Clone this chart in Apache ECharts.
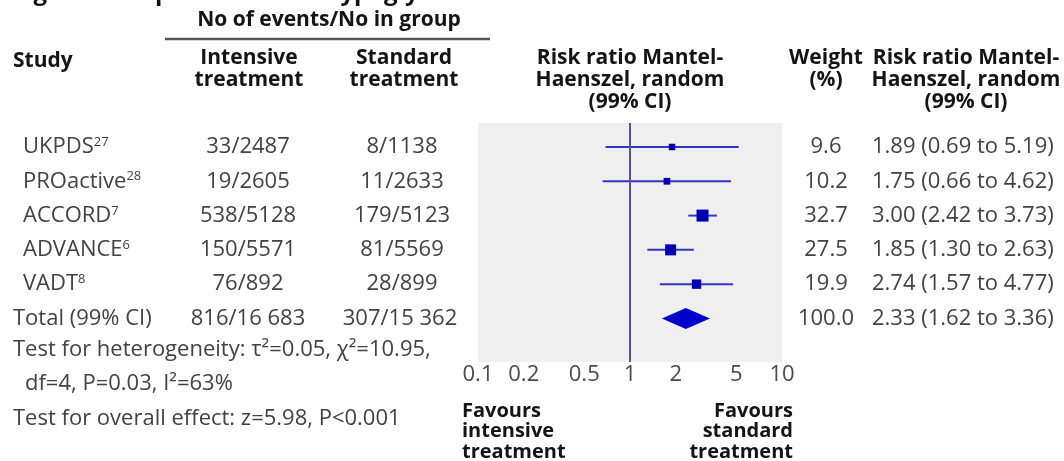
<!DOCTYPE html>
<html><head><meta charset="utf-8">
<script src="https://cdn.jsdelivr.net/npm/echarts@6/dist/echarts.min.js"></script>
<style>html,body{margin:0;padding:0;background:#fff}#c{width:1064px;height:461px}</style>
</head><body><div id="c"></div>
<script>
// ---- data ----
const studies = ['UKPDS', 'PROactive', 'ACCORD', 'ADVANCE', 'VADT'];
const refs = ['27', '28', '7', '6', '8'];
const intensive = ['33/2487', '19/2605', '538/5128', '150/5571', '76/892'];
const standard = ['8/1138', '11/2633', '179/5123', '81/5569', '28/899'];
const rr = [1.89, 1.75, 3.00, 1.85, 2.74];
const lo = [0.69, 0.66, 2.42, 1.30, 1.57];
const hi = [5.19, 4.62, 3.73, 2.63, 4.77];
const weight = [9.6, 10.2, 32.7, 27.5, 19.9];
const totalLabel = 'Total (99% CI)';
const totalIntensive = '816/16 683';
const totalStandard = '307/15 362';
const totalRR = 2.33, totalLo = 1.62, totalHi = 3.36, totalWeight = 100.0;
const tickLabels = [0.1, 0.2, 0.5, 1, 2, 5, 10];
const footLines = ['Test for heterogeneity: τ²=0.05, χ²=10.95,', 'df=4, P=0.03, I²=63%', 'Test for overall effect: z=5.98, P<0.001'];

const FONT = '"Open Sans", "DejaVu Sans", sans-serif';
const REG = '22px ' + FONT;
const BOLD = 'bold 21px ' + FONT;
const TXT = '#424242', HEAD = '#141414';
const chart = echarts.init(document.getElementById('c'));

const seriesData = studies.map((s, i) => [i, lo[i], rr[i], hi[i], weight[i], 0]);
seriesData.push([studies.length, totalLo, totalRR, totalHi, totalWeight, 1]);

chart.setOption({
  animation: false,
  backgroundColor: '#ffffff',
  grid: { left: 478, width: 304, top: 123, height: 239, show: true, backgroundColor: '#efefef', borderWidth: 0 },
  xAxis: {
    type: 'log', logBase: 10, min: 0.1, max: 10,
    axisLine: { show: false }, axisTick: { show: false }, splitLine: { show: false }, minorTick: { show: false },
    axisLabel: { customValues: tickLabels, fontFamily: FONT, fontSize: 22, color: '#4a4a4a', margin: 2, formatter: v => String(+(+v).toPrecision(3)) }
  },
  yAxis: { type: 'value', inverse: true, min: -0.7, max: 6.27, show: false },
  series: [{
    type: 'custom',
    encode: { x: [1, 2, 3], y: 0 },
    data: seriesData,
    renderItem: function (params, api) {
      const row = api.value(0);
      const pL = api.coord([api.value(1), row]);
      const pM = api.coord([api.value(2), row]);
      const pH = api.coord([api.value(3), row]);
      const isTotal = api.value(5) === 1;
      if (isTotal) {
        const h = 10.5;
        return { type: 'polygon', shape: { points: [[pL[0], pM[1]], [pM[0], pM[1] - h], [pH[0], pM[1]], [pM[0], pM[1] + h]] }, style: { fill: '#0000cc' } };
      }
      const sz = Math.sqrt(api.value(4)) * 2.1;
      return { type: 'group', children: [
        { type: 'line', shape: { x1: pL[0], y1: pL[1], x2: pH[0], y2: pH[1] }, style: { stroke: '#3535c0', lineWidth: 2 } },
        { type: 'rect', shape: { x: pM[0] - sz / 2, y: pM[1] - sz / 2, width: sz, height: sz }, style: { fill: '#0000b0' } }
      ] };
    },
    markLine: { silent: true, symbol: 'none', label: { show: false }, lineStyle: { color: '#55558c', width: 2, type: 'solid' }, data: [{ xAxis: 1 }] },
    z: 3
  }]
});

const yOf = i => chart.convertToPixel({ yAxisIndex: 0 }, i);
const G = [];
function txt(x, y, text, o) {
  G.push({ type: 'text', x: x, y: y, silent: true, style: Object.assign({ text: text, fill: TXT, font: REG, align: 'left', verticalAlign: 'middle' }, o || {}) });
}
// clipped title (only its lower part is inside the picture)
txt(13, 5, 'Fig 3 Forest plot of severe hypoglycaemia', { font: 'bold 24px ' + FONT, fill: '#111', verticalAlign: 'bottom' });
txt(329, 20, 'No of events/No in group', { font: BOLD, fill: HEAD, align: 'center' });
G.push({ type: 'line', silent: true, shape: { x1: 165, y1: 39, x2: 490, y2: 39 }, style: { stroke: '#555', lineWidth: 2.5 } });
txt(13, 61, 'Study', { font: BOLD, fill: HEAD });
const hdr = { font: BOLD, fill: HEAD, align: 'center', verticalAlign: 'top', lineHeight: 22 };
txt(249, 47, 'Intensive\ntreatment', hdr);
txt(404, 47, 'Standard\ntreatment', hdr);
txt(630, 47, 'Risk ratio Mantel-\nHaenszel, random\n(99% CI)', hdr);
txt(826, 47, 'Weight\n(%)', hdr);
txt(966, 47, 'Risk ratio Mantel-\nHaenszel, random\n(99% CI)', hdr);

const fmt = v => v.toFixed(2);
const RRX = 872;
studies.forEach((s, i) => {
  const y = yOf(i);
  txt(23, y, '{n|' + s + '}{s|' + refs[i] + '}', { rich: { n: { font: REG, fill: TXT }, s: { font: '13px ' + FONT, fill: TXT, verticalAlign: 'top', lineHeight: 16 } } });
  txt(248, y, intensive[i], { align: 'center' });
  txt(402, y, standard[i], { align: 'center' });
  txt(826, y, weight[i].toFixed(1), { align: 'center' });
  txt(RRX, y, fmt(rr[i]) + ' (' + fmt(lo[i]) + ' to ' + fmt(hi[i]) + ')');
});
const yt = yOf(studies.length);
txt(13, yt, totalLabel);
txt(248, yt, totalIntensive, { align: 'center' });
txt(400, yt, totalStandard, { align: 'center' });
txt(826, yt, totalWeight.toFixed(1), { align: 'center' });
txt(RRX, yt, fmt(totalRR) + ' (' + fmt(totalLo) + ' to ' + fmt(totalHi) + ')');
footLines.forEach((t, k) => txt(k === 1 ? 25 : 13, yOf(studies.length + 1 + k) - 3, t));

const fav = { font: 'bold 20px ' + FONT, fill: HEAD, verticalAlign: 'top', lineHeight: 20.5 };
txt(462, 401, 'Favours\nintensive\ntreatment', fav);
txt(793, 401, 'Favours\nstandard\ntreatment', Object.assign({}, fav, { align: 'right' }));

chart.setOption({ graphic: G });
</script></body></html>
